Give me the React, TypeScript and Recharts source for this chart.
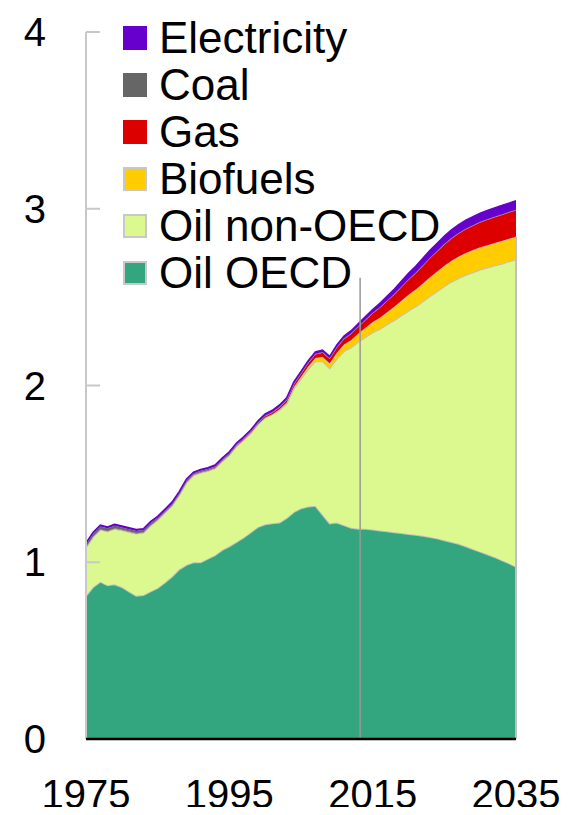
import React from 'react';
import { AreaChart, Area, XAxis, YAxis, ReferenceLine, Legend } from 'recharts';

const FONT = '"Liberation Sans", Arial, sans-serif';

const years = [
  1975, 1976, 1977, 1978, 1979, 1980, 1981, 1982, 1983, 1984,
  1985, 1986, 1987, 1988, 1989, 1990, 1991, 1992, 1993, 1994,
  1995, 1996, 1997, 1998, 1999, 2000, 2001, 2002, 2003, 2004,
  2005, 2006, 2007, 2008, 2009, 2010, 2011, 2012, 2013, 2014,
  2015, 2016, 2017, 2018, 2019, 2020, 2021, 2022, 2023, 2024,
  2025, 2026, 2027, 2028, 2029, 2030, 2031, 2032, 2033, 2034,
  2035,
];

const oilOECD = [
  0.81, 0.86, 0.89, 0.87, 0.875, 0.86, 0.835, 0.81, 0.815, 0.835,
  0.855, 0.885, 0.92, 0.96, 0.985, 1.0, 1.0, 1.02, 1.04, 1.07,
  1.09, 1.115, 1.14, 1.17, 1.2, 1.215, 1.22, 1.225, 1.25, 1.285,
  1.305, 1.315, 1.32, 1.27, 1.22, 1.225, 1.21, 1.195, 1.19, 1.19,
  1.185, 1.18, 1.175, 1.17, 1.165, 1.16, 1.155, 1.15, 1.143, 1.135,
  1.125, 1.115, 1.105, 1.09, 1.075, 1.06, 1.045, 1.03, 1.012, 0.995,
  0.975,
];

const oilNonOECD = [
  0.275, 0.285, 0.295, 0.305, 0.315, 0.323, 0.338, 0.353, 0.353, 0.373,
  0.386, 0.396, 0.401, 0.421, 0.466, 0.493, 0.508, 0.498, 0.492, 0.502,
  0.518, 0.543, 0.553, 0.562, 0.582, 0.604, 0.618, 0.637, 0.648, 0.699,
  0.734, 0.778, 0.817, 0.868, 0.878, 0.927, 0.984, 1.021, 1.058, 1.085,
  1.116, 1.14, 1.17, 1.2, 1.232, 1.264, 1.292, 1.325, 1.363, 1.398,
  1.437, 1.472, 1.503, 1.536, 1.566, 1.596, 1.622, 1.649, 1.677, 1.707,
  1.739,
];

const biofuels = [
  0, 0, 0, 0, 0, 0, 0, 0, 0, 0,
  0, 0, 0, 0, 0, 0, 0, 0, 0, 0,
  0, 0, 0, 0, 0, 0, 0, 0.004, 0.006, 0.008,
  0.011, 0.015, 0.019, 0.025, 0.028, 0.034, 0.038, 0.042, 0.046, 0.052,
  0.058, 0.064, 0.07, 0.076, 0.083, 0.09, 0.096, 0.102, 0.107, 0.112,
  0.116, 0.119, 0.122, 0.124, 0.125, 0.126, 0.127, 0.127, 0.128, 0.128,
  0.128,
];

const gas = [
  0.002, 0.002, 0.002, 0.002, 0.002, 0.002, 0.002, 0.002, 0.002, 0.002,
  0.002, 0.002, 0.002, 0.002, 0.002, 0.003, 0.003, 0.003, 0.004, 0.004,
  0.005, 0.005, 0.005, 0.006, 0.006, 0.008, 0.009, 0.011, 0.013, 0.015,
  0.017, 0.019, 0.021, 0.024, 0.026, 0.029, 0.032, 0.035, 0.038, 0.044,
  0.05, 0.057, 0.063, 0.069, 0.077, 0.085, 0.093, 0.101, 0.108, 0.114,
  0.12, 0.126, 0.131, 0.135, 0.139, 0.142, 0.145, 0.147, 0.149, 0.15,
  0.151,
];

const coal = [
  0.015, 0.015, 0.015, 0.015, 0.015, 0.012, 0.012, 0.012, 0.012, 0.012,
  0.009, 0.009, 0.009, 0.009, 0.009, 0.006, 0.006, 0.006, 0.006, 0.006,
  0.004, 0.004, 0.004, 0.004, 0.004, 0.003, 0.003, 0.003, 0.003, 0.003,
  0.003, 0.003, 0.003, 0.003, 0.003, 0.003, 0.003, 0.003, 0.003, 0.002,
  0.002, 0.002, 0.002, 0.002, 0.002, 0.002, 0.002, 0.002, 0.002, 0.002,
  0.002, 0.002, 0.002, 0.002, 0.002, 0.002, 0.002, 0.002, 0.002, 0.002,
  0.002,
];

const electricity = [
  0.008, 0.008, 0.008, 0.008, 0.008, 0.008, 0.008, 0.008, 0.008, 0.008,
  0.008, 0.008, 0.008, 0.008, 0.008, 0.008, 0.008, 0.008, 0.008, 0.008,
  0.008, 0.008, 0.008, 0.008, 0.008, 0.01, 0.01, 0.01, 0.01, 0.01,
  0.01, 0.01, 0.01, 0.01, 0.01, 0.012, 0.013, 0.014, 0.015, 0.017,
  0.019, 0.022, 0.025, 0.028, 0.031, 0.034, 0.037, 0.04, 0.042, 0.044,
  0.045, 0.046, 0.047, 0.048, 0.048, 0.049, 0.049, 0.05, 0.05, 0.05,
  0.05,
];

const xTicks = [1975, 1995, 2015, 2035];
const yTicks = [0, 1, 2, 3, 4];
const projectionStart = 2013.25;
const projectionLineTop = 2.61;

const legendItems = [
  { name: 'Electricity', color: '#6600CC', border: false },
  { name: 'Coal', color: '#666666', border: false },
  { name: 'Gas', color: '#DD0000', border: false },
  { name: 'Biofuels', color: '#FFCC00', border: true },
  { name: 'Oil non-OECD', color: '#DCF98F', border: true },
  { name: 'Oil OECD', color: '#33A67F', border: true },
];

const LegendBox = () => (
  <div style={{ fontFamily: FONT, fontSize: 44, lineHeight: '47px', color: '#000' }}>
    {legendItems.map((it) => (
      <div
        key={it.name}
        style={{ display: 'flex', alignItems: 'center', height: 47, whiteSpace: 'nowrap' }}
      >
        <span
          style={{
            display: 'inline-block',
            width: 24,
            height: 24,
            background: it.color,
            boxSizing: 'border-box',
            border: it.border ? '2px solid #c8c8c8' : 'none',
            marginRight: 12,
            flexShrink: 0,
          }}
        />
        <span>{it.name}</span>
      </div>
    ))}
  </div>
);

export default function App() {
  const data = years.map((year, i) => ({
    year,
    oecd: oilOECD[i],
    nonOecd: oilNonOECD[i],
    bio: biofuels[i],
    gas: gas[i],
    coal: coal[i],
    elec: electricity[i],
  }));
  const last = years.length - 1;
  const edgeTop = oilOECD[last] + oilNonOECD[last] + biofuels[last];

  return (
    <div style={{ fontFamily: FONT, width: 577, height: 815, margin: -8 }}>
      <AreaChart
        width={577}
        height={815}
        data={data}
        margin={{ top: 32, right: 61, left: 0, bottom: 16 }}
      >
        <Area type="linear" dataKey="oecd" stackId="1" fill="#33A67F" fillOpacity={1} stroke="#c0c0c0" strokeWidth={2} isAnimationActive={false} />
        <Area type="linear" dataKey="nonOecd" stackId="1" fill="#DCF98F" fillOpacity={1} stroke="#c0c0c0" strokeWidth={2} isAnimationActive={false} />
        <Area type="linear" dataKey="bio" stackId="1" fill="#FFCC00" fillOpacity={1} stroke="#c0c0c0" strokeWidth={1.5} isAnimationActive={false} />
        <Area type="linear" dataKey="gas" stackId="1" fill="#DD0000" fillOpacity={1} stroke="#c8a0a0" strokeWidth={1} isAnimationActive={false} />
        <Area type="linear" dataKey="coal" stackId="1" fill="#666666" fillOpacity={1} stroke="none" isAnimationActive={false} />
        <Area type="linear" dataKey="elec" stackId="1" fill="#6600CC" fillOpacity={1} stroke="#6600CC" strokeWidth={1.5} isAnimationActive={false} />
        <ReferenceLine
          segment={[{ x: projectionStart, y: 0 }, { x: projectionStart, y: projectionLineTop }]}
          stroke="#999999"
          strokeWidth={1.5}
        />
        <ReferenceLine
          segment={[{ x: years[last], y: 0 }, { x: years[last], y: edgeTop }]}
          stroke="#c0c0c0"
          strokeWidth={2}
        />
        <YAxis
          domain={[0, 4]}
          ticks={yTicks}
          width={86}
          axisLine={{ stroke: '#c8c8c8', strokeWidth: 2 }}
          tickLine={{ stroke: '#c8c8c8', strokeWidth: 2 }}
          tickSize={-14}
          tickMargin={54}
          tick={{ fill: '#000', fontSize: 40, fontFamily: FONT }}
          interval={0}
        />
        <XAxis
          dataKey="year"
          type="number"
          domain={[1975, 2035]}
          ticks={xTicks}
          axisLine={{ stroke: '#000', strokeWidth: 2.5 }}
          tickLine={false}
          tickSize={0}
          tickMargin={41}
          tick={{ fill: '#000', fontSize: 40, fontFamily: FONT }}
          height={60}
          interval={0}
        />
        <Legend
          layout="vertical"
          align="center"
          verticalAlign="middle"
          wrapperStyle={{ left: 123, top: 14, width: 'auto', height: 'auto' }}
          content={() => <LegendBox />}
        />
      </AreaChart>
    </div>
  );
}
